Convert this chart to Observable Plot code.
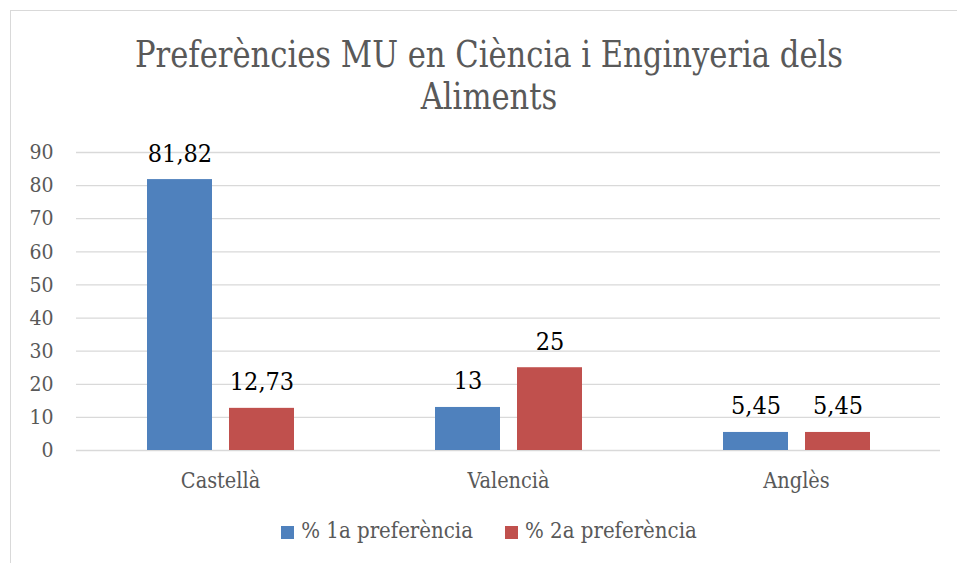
<!DOCTYPE html>
<html><head><meta charset="utf-8">
<script src="https://cdn.jsdelivr.net/npm/d3@7"></script>
<script src="https://cdn.jsdelivr.net/npm/@observablehq/plot@0.6"></script>
<style>
body{margin:0;background:#fff;width:957px;height:563px;overflow:hidden;position:relative;font-family:"DejaVu Serif Condensed","DejaVu Serif",serif;font-stretch:condensed;}
#frame{position:absolute;left:10px;top:10px;width:960px;height:560px;border:1px solid #d9d9d9;box-sizing:border-box;}
#title{position:absolute;left:0;width:978px;top:34px;text-align:center;font-size:37px;line-height:42px;color:#595959;transform:scaleX(0.92);transform-origin:489px 0;}
#chart{position:absolute;left:0;top:130px;}
#legend{position:absolute;left:0;width:978px;top:518px;text-align:center;font-size:22px;color:#595959;}
#legend span.sw{display:inline-block;width:13px;height:13px;margin-right:7px;vertical-align:-1px;}
#legend span.item{margin:0 16px;}
</style></head><body>
<div id="frame"></div>
<div id="title">Preferències MU en Ciència i Enginyeria dels<br>Aliments</div>
<div id="chart"></div>
<div id="legend"></div>
<script>
const categories = ["Castellà", "Valencià", "Anglès"];
const series = ["% 1a preferència", "% 2a preferència"];
const values1 = [81.82, 13, 5.45];
const values2 = [12.73, 25, 5.45];
const labels1 = ["81,82", "13", "5,45"];
const labels2 = ["12,73", "25", "5,45"];
const yTicks = [0, 10, 20, 30, 40, 50, 60, 70, 80, 90];
const colors = ["#4F81BD", "#C0504D"];

const data = [];
categories.forEach((c, i) => {
  data.push({cat: c, s: series[0], v: values1[i], lab: labels1[i]});
  data.push({cat: c, s: series[1], v: values2[i], lab: labels2[i]});
});

const font = '"DejaVu Serif Condensed","DejaVu Serif",serif';
const plot = Plot.plot({
  width: 957, height: 370,
  marginLeft: 75, marginRight: 17, marginTop: 22, marginBottom: 50,
  style: {fontFamily: font, background: "transparent", overflow: "visible"},
  fx: {domain: categories, padding: 0, label: null, axis: null},
  x: {domain: series, paddingInner: 0.21, paddingOuter: 0.86, axis: null},
  y: {domain: [0, 90], ticks: yTicks, axis: null},
  color: {domain: series, range: colors},
  marks: [
    Plot.gridY(yTicks, {stroke: "#d9d9d9", strokeOpacity: 1, strokeWidth: 1.3}),
    Plot.barY(data, {fx: "cat", x: "s", y: "v", fill: "s"}),
    Plot.text(data, {fx: "cat", x: "s", y: "v", text: "lab", dy: -26, fontSize: 25, fill: "#000", fontFamily: font}),
    Plot.axisY(yTicks, {tickSize: 0, tickPadding: 23, fontSize: 21, fill: "#595959", label: null, tickFormat: d => String(d), fontFamily: font}),
    Plot.axisFx({anchor: "bottom", tickSize: 0, tickPadding: 22, fontSize: 21.5, fill: "#595959", label: null, fontFamily: font})
  ]
});
document.getElementById("chart").appendChild(plot);

const leg = document.getElementById("legend");
series.forEach((s, i) => {
  const item = document.createElement("span");
  item.className = "item";
  const sw = document.createElement("span");
  sw.className = "sw";
  sw.style.background = colors[i];
  item.appendChild(sw);
  item.appendChild(document.createTextNode(s));
  leg.appendChild(item);
});
</script>
</body></html>
